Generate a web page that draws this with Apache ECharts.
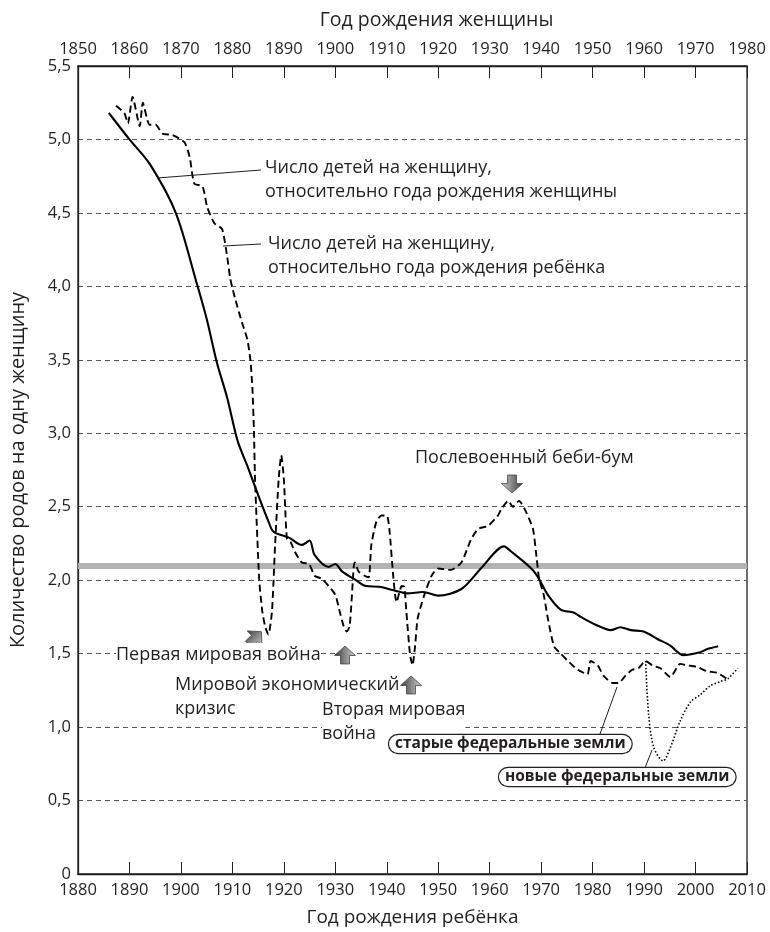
<!DOCTYPE html>
<html>
<head>
<meta charset="utf-8">
<script src="https://cdn.jsdelivr.net/npm/echarts@6/dist/echarts.min.js"></script>
<style>
  html, body { margin: 0; background: #fff; }
  #main { width: 770px; height: 932px; }
</style>
</head>
<body>
<div id="main"></div>
<script>
// число детей на женщину по году рождения женщины (верхняя ось)
const womanYears = [1856, 1860, 1864, 1869, 1873, 1875, 1877, 1879, 1881, 1883, 1885, 1887, 1888, 1891, 1893.5, 1895, 1896,
  1898.7, 1900, 1901.3, 1904, 1906, 1908.5, 1911.5, 1914, 1917, 1920, 1924.5, 1928.3, 1932.8, 1934, 1938.6, 1941.3,
  1943.8, 1946.3, 1947.7, 1951, 1953.5, 1955.4, 1957.4, 1959.9, 1962.6, 1965.1, 1967.6, 1970.9, 1972.2, 1974.4]
const womanTfr = [5.18, 5.0, 4.83, 4.5, 4.03, 3.78, 3.48, 3.24, 2.95, 2.77, 2.58, 2.4, 2.33, 2.29, 2.24, 2.27, 2.17,
  2.09, 2.11, 2.06, 2.0, 1.96, 1.955, 1.93, 1.91, 1.92, 1.895, 1.94, 2.08, 2.23, 2.2, 2.06, 1.9,
  1.8, 1.78, 1.75, 1.69, 1.66, 1.68, 1.66, 1.65, 1.6, 1.555, 1.49, 1.51, 1.53, 1.55]

// число детей на женщину по году рождения ребёнка (нижняя ось), старые федеральные земли
const childYears = [1887.4, 1889, 1889.7, 1890.6, 1892, 1892.6, 1893.9, 1895.1, 1896.4, 1898.4, 1900.7, 1901.7, 1902.6,
  1904.2, 1905.1, 1906.5, 1908, 1909, 1909.6, 1910.5, 1911.9, 1912.9, 1913.5, 1913.9, 1914.2, 1914.4, 1915.2, 1915.8,
  1916.4, 1917, 1917.7, 1918.3, 1919, 1919.5, 1920, 1920.6, 1921.3, 1922.2, 1923.5, 1924.9, 1926, 1927.4, 1928.7,
  1930, 1930.9, 1931.6, 1932.2, 1932.8, 1933.6, 1933.8, 1934.5, 1935.7, 1936.5, 1937, 1938, 1939, 1940, 1940.5,
  1941.3, 1941.9, 1942.9, 1943.4, 1943.8, 1944.5, 1945, 1945.5, 1946, 1947.3, 1948.7, 1950, 1952.5, 1954.5, 1956.4,
  1957.8, 1959.7, 1961.6, 1962.2, 1963.6, 1964.5, 1965.7, 1967, 1968.4, 1969, 1969.6, 1970.5, 1971.3, 1972.5, 1973.8,
  1975.2, 1977.1, 1979, 1979.6, 1981, 1982.1, 1983.9, 1985, 1986.4, 1987.7, 1988.9, 1990.3, 1991.6, 1993.2, 1995.1,
  1997, 1998.4, 2000.3, 2002.2, 2004.2, 2006]
const childTfr = [5.23, 5.18, 5.11, 5.29, 5.09, 5.25, 5.1, 5.1, 5.04, 5.03, 4.98, 4.88, 4.7,
  4.68, 4.54, 4.43, 4.39, 4.2, 4.05, 3.92, 3.75, 3.64, 3.5, 3.3, 3.0, 2.69, 2.01, 1.79,
  1.68, 1.63, 1.79, 2.24, 2.69, 2.85, 2.69, 2.28, 2.26, 2.19, 2.12, 2.11, 2.03, 2.01, 1.96,
  1.9, 1.78, 1.69, 1.65, 1.69, 2.1, 2.12, 2.06, 2.03, 2.02, 2.24, 2.4, 2.44, 2.44, 2.35,
  2.01, 1.85, 1.96, 1.955, 1.79, 1.5, 1.42, 1.55, 1.74, 1.9, 2.03, 2.08, 2.07, 2.12, 2.28,
  2.35, 2.37, 2.44, 2.48, 2.54, 2.5, 2.54, 2.47, 2.35, 2.19, 2.01, 1.9, 1.74, 1.55, 1.5,
  1.45, 1.39, 1.36, 1.45, 1.42, 1.35, 1.3, 1.3, 1.35, 1.39, 1.4, 1.45, 1.42, 1.4, 1.34,
  1.43, 1.42, 1.41, 1.38, 1.37, 1.33]

// новые федеральные земли
const eastYears = [1990.3, 1990.9, 1991.9, 1993.7, 1995.1, 1997, 1999, 2000.9, 2002.8, 2004.8, 2006.3, 2008.2]
const eastTfr = [1.45, 1.08, 0.86, 0.77, 0.86, 1.04, 1.17, 1.22, 1.28, 1.31, 1.33, 1.4]

const replacementLevel = 2.1

const ink = '#231f20'
const font = '"Open Sans", sans-serif'

const myChart = echarts.init(document.getElementById('main'))

const arrowFill = {
  type: 'linear', x: 0, y: 0, x2: 1, y2: 0,
  colorStops: [{ offset: 0, color: '#3c3c3c' }, { offset: 1, color: '#d0d0d0' }]
}
// стрелка вверх, центр в (0,0)
const arrowPts = [[0, -9], [-10.5, 0.5], [-4.5, 0.5], [-4.5, 9], [4.5, 9], [4.5, 0.5], [10.5, 0.5]]

function arrow (x, y, rot) {
  return {
    type: 'polygon',
    x: x,
    y: y,
    rotation: rot,
    shape: { points: arrowPts },
    style: { fill: arrowFill, stroke: '#333', lineWidth: 0.7 },
    z: 50
  }
}

function note (x, y, text, bg) {
  return {
    type: 'text',
    x: x,
    y: y,
    style: {
      text: text,
      fill: ink,
      font: '18px ' + font,
      lineHeight: 24,
      backgroundColor: bg ? '#fff' : null
    },
    z: 60
  }
}

function pill (x, y, text) {
  return {
    type: 'text',
    x: x,
    y: y,
    style: {
      text: text,
      fill: ink,
      font: 'bold 15.5px ' + font,
      backgroundColor: '#fff',
      borderColor: ink,
      borderWidth: 1.2,
      borderRadius: 11,
      padding: [1, 6, 1, 6]
    },
    z: 60
  }
}

function leader (x1, y1, x2, y2) {
  return {
    type: 'line',
    shape: { x1: x1, y1: y1, x2: x2, y2: y2 },
    style: { stroke: ink, lineWidth: 1 },
    z: 40
  }
}

const axisText = { color: ink, fontSize: 16.5, fontFamily: font }

const option = {
  animation: false,
  backgroundColor: '#fff',
  grid: {
    left: 75,
    right: 23,
    top: 66,
    bottom: 56,
    show: true,
    borderColor: ink,
    borderWidth: 1.3
  },
  xAxis: [
    {
      type: 'value',
      min: 1880,
      max: 2010,
      interval: 10,
      position: 'bottom',
      name: 'Год рождения ребёнка',
      nameLocation: 'middle',
      nameGap: 34,
      nameTextStyle: { color: ink, fontSize: 19, fontFamily: font },
      axisLine: { show: true, lineStyle: { color: ink, width: 1.3 } },
      axisTick: { show: true, inside: true, length: 12, lineStyle: { color: ink } },
      axisLabel: Object.assign({ margin: 8, formatter: v => String(v) }, axisText),
      splitLine: { show: false }
    },
    {
      type: 'value',
      min: 1850,
      max: 1980,
      interval: 10,
      position: 'top',
      name: 'Год рождения женщины',
      nameLocation: 'middle',
      nameGap: 36,
      nameTextStyle: { color: ink, fontSize: 19.5, fontFamily: font, padding: [0, 0, 0, 48] },
      axisLine: { show: true, lineStyle: { color: ink, width: 1.3 } },
      axisTick: { show: true, inside: true, length: 12, lineStyle: { color: ink } },
      axisLabel: Object.assign({ margin: 8, formatter: v => String(v) }, axisText),
      splitLine: { show: false }
    }
  ],
  yAxis: {
    type: 'value',
    min: 0,
    max: 5.5,
    interval: 0.5,
    name: 'Количество родов на одну женщину',
    nameLocation: 'middle',
    nameGap: 50,
    nameTextStyle: { color: ink, fontSize: 20, fontFamily: font },
    axisLine: { show: true, lineStyle: { color: ink, width: 1.3 } },
    axisTick: { show: false },
    axisLabel: Object.assign({
      margin: 7,
      formatter: v => v === 0 ? '0' : v.toFixed(1).replace('.', ',')
    }, axisText),
    splitLine: { show: true, lineStyle: { color: '#555', type: [5, 4], width: 1 } }
  },
  series: [
    {
      name: 'уровень воспроизводства',
      type: 'line',
      data: [],
      z: 1,
      markLine: {
        silent: true,
        symbol: 'none',
        label: { show: false },
        lineStyle: { color: '#b3b3b3', width: 6, type: 'solid' },
        data: [{ yAxis: replacementLevel }]
      }
    },
    {
      name: 'по году рождения женщины',
      type: 'line',
      xAxisIndex: 1,
      data: womanYears.map((y, i) => [y, womanTfr[i]]),
      smooth: 0.3,
      symbol: 'none',
      lineStyle: { color: '#000', width: 2.1 },
      z: 5
    },
    {
      name: 'старые федеральные земли',
      type: 'line',
      data: childYears.map((y, i) => [y, childTfr[i]]),
      smooth: 0.2,
      symbol: 'none',
      lineStyle: { color: '#000', width: 1.9, type: [7, 4] },
      z: 5
    },
    {
      name: 'новые федеральные земли',
      type: 'line',
      data: eastYears.map((y, i) => [y, eastTfr[i]]),
      smooth: 0.3,
      symbol: 'none',
      lineStyle: { color: '#000', width: 1.6, type: [1.5, 2] },
      z: 5
    }
  ],
  graphic: [
    leader(157, 178, 261, 170),
    note(265, 156, 'Число детей на женщину,\nотносительно года рождения женщины'),
    leader(223, 246, 261, 244),
    note(268, 232, 'Число детей на женщину,\nотносительно года рождения ребёнка'),
    note(415, 446, 'Послевоенный беби-бум'),
    arrow(512, 484, Math.PI),
    note(116, 643, 'Первая мировая война', true),
    arrow(255, 638, -Math.PI / 4),
    note(175, 673, 'Мировой экономический\nкризис'),
    arrow(345, 655, 0),
    note(322, 698, 'Вторая мировая\nвойна', true),
    arrow(411, 685, 0),
    leader(600, 734, 617, 687),
    pill(389, 735, 'старые федеральные земли'),
    leader(645, 768, 652, 750),
    pill(499, 768, 'новые федеральные земли')
  ]
}

myChart.setOption(option)
</script>
</body>
</html>
